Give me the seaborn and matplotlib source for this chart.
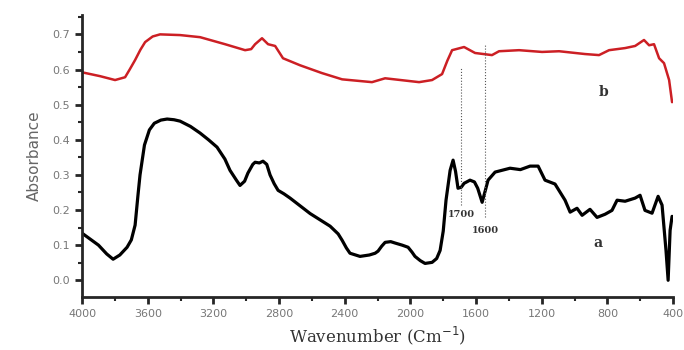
import numpy as np
import pandas as pd
import seaborn as sns
import matplotlib.pyplot as plt
from matplotlib.ticker import MultipleLocator

# spectrum a (black)
wn_a = [4000, 3900, 3850, 3811, 3770, 3726, 3700, 3677, 3660, 3647, 3620, 3590,
        3560, 3520, 3482, 3440, 3403, 3340, 3281, 3230, 3178, 3130, 3099, 3060,
        3038, 3010, 2990, 2960, 2946, 2920, 2898, 2875, 2855, 2830, 2806, 2770,
        2733, 2611, 2489, 2440, 2416, 2390, 2368, 2307, 2250, 2215, 2197, 2175,
        2154, 2120, 2093, 2050, 2014, 1990, 1972, 1940, 1911, 1868, 1840, 1819,
        1800, 1783, 1758, 1740, 1725, 1710, 1690, 1673, 1637, 1610, 1590, 1563,
        1540, 1527, 1484, 1393, 1330, 1271, 1222, 1180, 1119, 1058, 1027, 985,
        954, 906, 863, 814, 772, 741, 692, 631, 601, 571, 528, 491, 467, 443,
        430, 418, 406]
abs_a = [0.134, 0.100, 0.075, 0.060, 0.072, 0.094, 0.115, 0.157, 0.240, 0.300,
         0.385, 0.428, 0.447, 0.456, 0.459, 0.457, 0.453, 0.438, 0.419, 0.400,
         0.379, 0.345, 0.313, 0.285, 0.270, 0.282, 0.305, 0.330, 0.336, 0.334,
         0.339, 0.330, 0.300, 0.275, 0.256, 0.246, 0.234, 0.190, 0.154, 0.132,
         0.114, 0.092, 0.077, 0.068, 0.072, 0.077, 0.083, 0.097, 0.108, 0.110,
         0.106, 0.100, 0.094, 0.080, 0.068, 0.056, 0.048, 0.051, 0.062, 0.085,
         0.140, 0.228, 0.313, 0.342, 0.310, 0.262, 0.265, 0.276, 0.285, 0.280,
         0.262, 0.222, 0.262, 0.285, 0.308, 0.319, 0.315, 0.325, 0.325, 0.285,
         0.274, 0.228, 0.194, 0.205, 0.185, 0.202, 0.179, 0.188, 0.199, 0.228,
         0.225, 0.234, 0.242, 0.199, 0.191, 0.239, 0.214, 0.085, 0.000, 0.142,
         0.182]

# spectrum b (red)
wn_b = [4000, 3890, 3799, 3738, 3710, 3677, 3645, 3616, 3570, 3525, 3403, 3281,
        3129, 3007, 2970, 2946, 2904, 2867, 2824, 2776, 2672, 2540, 2416, 2234,
        2154, 1947, 1868, 1807, 1775, 1746, 1673, 1606, 1503, 1460, 1338, 1198,
        1094, 936, 851, 790, 692, 631, 577, 546, 516, 485, 455, 424, 406]
abs_b = [0.592, 0.581, 0.570, 0.578, 0.600, 0.627, 0.656, 0.678, 0.694, 0.700,
         0.698, 0.692, 0.672, 0.655, 0.658, 0.672, 0.689, 0.672, 0.667, 0.632,
         0.612, 0.590, 0.572, 0.564, 0.575, 0.564, 0.570, 0.587, 0.625, 0.655,
         0.664, 0.647, 0.641, 0.652, 0.655, 0.650, 0.652, 0.644, 0.641, 0.655,
         0.661, 0.667, 0.684, 0.669, 0.672, 0.632, 0.618, 0.570, 0.507]

marks = [1692, 1545]
mark_top = [0.607, 0.670]
mark_bottom = [0.214, 0.180]
mark_labels = ["1700", "1600"]

df_a = pd.DataFrame({"wn": wn_a, "abs": abs_a})
df_b = pd.DataFrame({"wn": wn_b, "abs": abs_b})

sns.set_style("ticks")
fig = plt.figure(figsize=(6.84, 3.5), dpi=100)
ax = fig.add_axes([0.12, 0.151, 0.864, 0.806])

sns.lineplot(data=df_a, x="wn", y="abs", color="black", lw=2.3, sort=False, ax=ax)
sns.lineplot(data=df_b, x="wn", y="abs", color="#cc1f24", lw=1.8, sort=False, ax=ax)

for xm, top, bot in zip(marks, mark_top, mark_bottom):
    ax.plot([xm, xm], [bot, top], ls=":", color="#555555", lw=0.8)

ax.text(marks[0], 0.188, mark_labels[0], ha="center", va="center", fontsize=7,
        family="DejaVu Serif", weight="bold", color="#333333")
ax.text(marks[1], 0.143, mark_labels[1], ha="center", va="center", fontsize=7,
        family="DejaVu Serif", weight="bold", color="#333333")
ax.text(860, 0.105, "a", ha="center", va="center", fontsize=10,
        family="DejaVu Serif", weight="bold", color="#333333")
ax.text(825, 0.535, "b", ha="center", va="center", fontsize=10,
        family="DejaVu Serif", weight="bold", color="#333333")

ax.set_xlim(4000, 400)
ax.set_ylim(-0.048, 0.755)
ax.xaxis.set_major_locator(MultipleLocator(400))
ax.xaxis.set_minor_locator(MultipleLocator(200))
ax.yaxis.set_major_locator(MultipleLocator(0.1))
ax.yaxis.set_minor_locator(MultipleLocator(0.05))
ax.set_yticks(np.arange(0, 0.71, 0.1))
ax.set_yticklabels([f"{v:.1f}" for v in np.arange(0, 0.71, 0.1)])

sns.despine(ax=ax)
for s in ["left", "bottom"]:
    ax.spines[s].set_linewidth(2)
ax.tick_params(which="major", length=5, width=2, labelsize=8, labelcolor="#777777")
ax.tick_params(which="minor", length=3, width=1.5)

ax.set_xlabel("Wavenumber (Cm$^{-1}$)", family="DejaVu Serif", fontsize=12,
              color="#333333")
ax.set_ylabel("Absorbance", fontsize=11, color="#666666", labelpad=8)

fig.savefig("out.png", dpi=100)
